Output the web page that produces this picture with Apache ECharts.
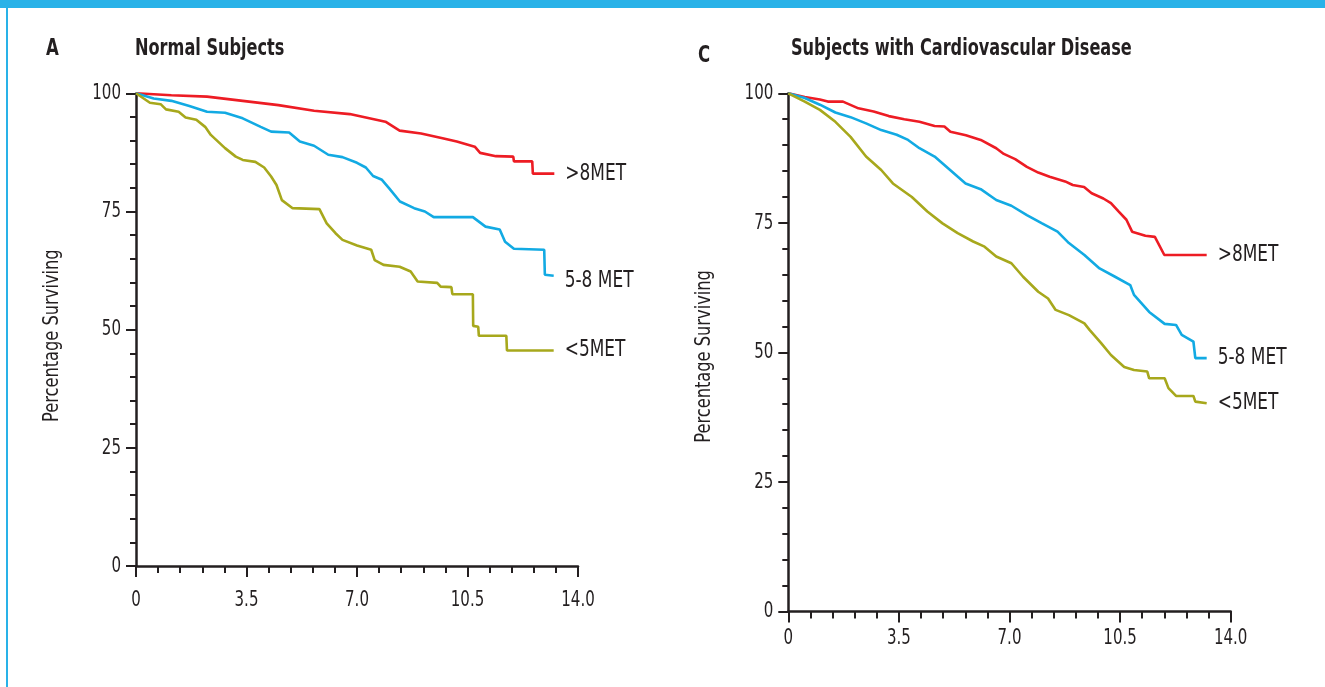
<!DOCTYPE html>
<html>
<head>
<meta charset="utf-8">
<script src="https://cdn.jsdelivr.net/npm/echarts@6/dist/echarts.min.js"></script>
<style>
html,body{margin:0;padding:0;background:#fff;}
#c{width:1325px;height:687px;}
</style>
</head>
<body>
<div id="c"></div>
<script>
// ---- Data (years of follow-up, percentage surviving) ----
const seriesNames = ['>8MET', '5-8 MET', '<5MET'];
const panelLetters = ['A', 'C'];
const panelTitles = ['Normal Subjects', 'Subjects with Cardiovascular Disease'];
const yAxisTitle = 'Percentage Surviving';
const xTickValues = [0, 3.5, 7, 10.5, 14];
const xTickLabels = ['0', '3.5', '7.0', '10.5', '14.0'];
const yTickValues = [0, 25, 50, 75, 100];
const yTickLabels = ['0', '25', '50', '75', '100'];

// Panel A: Normal subjects
const aHighT = [0,1.12,2.25,3.38,4.51,5.64,6.77,7.9,8.35,9.03,9.71,10.16,10.73,10.9,11.4,11.95,11.97,12.55,12.57,13.25];
const aHighS = [100,99.6,99.3,98.4,97.5,96.3,95.6,94.0,92.1,91.5,90.5,89.8,88.7,87.4,86.7,86.6,85.6,85.6,83.0,83.0];
const aMidT = [0,0.56,1.12,1.69,2.25,2.82,3.38,3.95,4.28,4.85,5.19,5.64,6.09,6.54,7.0,7.28,7.51,7.79,8.02,8.36,8.81,9.15,9.43,10.67,11.07,11.52,11.69,11.97,12.93,12.95,13.23];
const aMidS = [100,98.9,98.4,97.3,96.1,95.9,94.7,92.9,91.9,91.7,89.8,88.9,87.0,86.5,85.3,84.3,82.5,81.7,79.9,77.1,75.7,75.0,73.8,73.8,71.8,71.2,68.6,67.1,66.9,61.6,61.4];
const aLowT = [0,0.44,0.78,0.95,1.35,1.57,1.91,2.19,2.37,2.82,3.16,3.38,3.78,4.06,4.28,4.45,4.62,4.96,5.81,6.04,6.32,6.54,7.0,7.45,7.56,7.84,8.35,8.7,8.92,9.54,9.65,9.99,10.02,10.67,10.68,10.84,10.86,11.73,11.75,13.23];
const aLowS = [100,98.0,97.7,96.6,96.1,94.9,94.4,92.9,91.2,88.4,86.6,85.9,85.5,84.3,82.4,80.6,77.4,75.7,75.5,72.5,70.4,69.0,67.8,66.9,64.7,63.7,63.3,62.3,60.2,59.9,59.1,59.0,57.5,57.5,50.8,50.6,48.7,48.7,45.6,45.6];

// Panel C: Subjects with cardiovascular disease
const cHighT = [0,0.52,1.0,1.25,1.73,2.22,2.7,3.18,3.67,4.15,4.63,4.94,5.13,5.62,6.09,6.58,6.82,7.18,7.55,7.91,8.27,8.76,9.0,9.36,9.6,9.97,10.21,10.45,10.7,10.88,11.3,11.6,11.9,13.24];
const cHighS = [100,99.3,98.8,98.4,98.4,97.1,96.5,95.6,95.0,94.5,93.7,93.6,92.6,91.9,91.0,89.4,88.3,87.3,85.8,84.7,83.9,83.0,82.3,81.9,80.7,79.7,78.8,77.2,75.6,73.3,72.5,72.3,68.8,68.8];
const cMidT = [0,0.52,1.0,1.49,1.97,2.46,2.94,3.43,3.79,4.15,4.63,5.12,5.61,6.09,6.58,7.06,7.55,8.03,8.52,8.88,9.37,9.85,10.34,10.82,10.94,11.42,11.91,12.27,12.45,12.82,12.88,13.24];
const cMidS = [100,99.1,97.8,96.3,95.4,94.2,92.9,92.0,91.0,89.4,87.8,85.2,82.6,81.5,79.4,78.3,76.5,74.9,73.3,71.1,68.8,66.2,64.6,63.0,61.1,57.8,55.5,55.3,53.4,52.1,48.9,48.9];
const cLowT = [0,0.52,1.0,1.49,1.97,2.46,2.94,3.31,3.91,4.4,4.88,5.36,5.85,6.21,6.58,7.06,7.43,7.91,8.22,8.46,8.88,9.37,9.54,9.9,10.21,10.63,10.94,11.36,11.42,11.91,12.03,12.27,12.82,12.88,13.24];
const cLowS = [100,98.4,96.8,94.5,91.6,87.8,85.2,82.6,80.0,77.2,74.9,73.0,71.4,70.4,68.5,67.2,64.6,61.7,60.4,58.2,57.2,55.6,54.3,51.8,49.5,47.2,46.6,46.3,45.0,45.0,43.1,41.6,41.6,40.5,40.2];

const colors = ['#ed1c24', '#12aae3', '#a7a81c'];
const ink = '#231f20';
const FONT = "'DejaVu Sans Condensed','Liberation Sans Narrow',sans-serif";

function zip(t, s) { return t.map((x, i) => [x, s[i]]); }

const grids = [
  {left: 136, top: 93.3, width: 442, height: 472.7},
  {left: 788.3, top: 93.3, width: 442.4, height: 518.2}
];

function xAxis(gi) {
  return {
    type: 'value', gridIndex: gi, min: 0, max: 14, interval: 3.5,
    axisLine: {show: true, lineStyle: {color: ink, width: 2.5}},
    axisTick: {show: true, length: 11, lineStyle: {color: ink, width: 2}},
    minorTick: {show: true, splitNumber: 5, length: 7, lineStyle: {color: ink, width: 2}},
    splitLine: {show: false},
    axisLabel: {show: false}
  };
}
function yAxis(gi) {
  return {
    type: 'value', gridIndex: gi, min: 0, max: 100, interval: 25,
    axisLine: {show: true, lineStyle: {color: ink, width: 2.5}},
    axisTick: {show: true, length: 10, lineStyle: {color: ink, width: 2}},
    minorTick: {show: true, splitNumber: 5, length: 6, lineStyle: {color: ink, width: 2}},
    splitLine: {show: false},
    axisLabel: {show: false}
  };
}

function line(gi, name, t, s, color) {
  return {
    type: 'line', name: name, xAxisIndex: gi, yAxisIndex: gi,
    data: zip(t, s), showSymbol: false, symbol: 'none',
    lineStyle: {color: color, width: 2.6}, itemStyle: {color: color},
    z: 3
  };
}

const seriesData = [
  [[aHighT, aHighS], [aMidT, aMidS], [aLowT, aLowS]],
  [[cHighT, cHighS], [cMidT, cMidS], [cLowT, cLowS]]
];

const chart = echarts.init(document.getElementById('c'), null, {renderer: 'canvas'});
const series = [];
seriesData.forEach((panel, gi) => panel.forEach((d, k) => series.push(line(gi, seriesNames[k], d[0], d[1], colors[k]))));
chart.setOption({
  animation: false,
  backgroundColor: '#fff',
  grid: grids,
  xAxis: [xAxis(0), xAxis(1)],
  yAxis: [yAxis(0), yAxis(1)],
  series: series
});

// condensed text helper (scaled horizontally to mimic the condensed typeface)
function txt(x, y, text, o) {
  return {
    type: 'text', x: x, y: y, scaleX: o.sx || 0.78, rotation: o.rot || 0, z: 20,
    style: {
      text: text, x: 0, y: 0, fill: ink, align: o.align || 'left', verticalAlign: o.va || 'middle',
      font: (o.bold ? 'bold ' : '') + (o.size || 22) + 'px ' + FONT
    }
  };
}

const graphic = [
  {type: 'rect', x: 0, y: 0, shape: {width: 1325, height: 8}, style: {fill: '#29b2e8'}, z: 10},
  {type: 'rect', x: 6, y: 0, shape: {width: 2, height: 687}, style: {fill: '#29b2e8'}, z: 10}
];
const xLabelDrop = [34, 27];
const nameCenterX = [53, 705];
const letterPos = [[46, 49], [698, 56]];
const titlePos = [[135, 49], [791, 49]];
const endOffsetY = [[0, 5, 0], [0, 0, 0]];
[0, 1].forEach(gi => {
  const finder = {gridIndex: gi};
  xTickValues.forEach((v, i) => {
    const p = chart.convertToPixel(finder, [v, 0]);
    graphic.push(txt(p[0], p[1] + xLabelDrop[gi], xTickLabels[i], {align: 'center', sx: 0.76}));
  });
  yTickValues.forEach((v, i) => {
    const p = chart.convertToPixel(finder, [0, v]);
    graphic.push(txt(p[0] - 15, p[1], yTickLabels[i], {align: 'right', sx: 0.76}));
  });
  const top = chart.convertToPixel(finder, [0, 100]);
  const bot = chart.convertToPixel(finder, [0, 0]);
  graphic.push(txt(nameCenterX[gi], (top[1] + bot[1]) / 2 + (gi === 0 ? 6 : 4), yAxisTitle,
    {align: 'center', rot: Math.PI / 2, size: 21, sx: 0.86}));
  graphic.push(txt(letterPos[gi][0], letterPos[gi][1], panelLetters[gi], {bold: true, size: 23, sx: 0.8}));
  graphic.push(txt(titlePos[gi][0], titlePos[gi][1], panelTitles[gi], {bold: true, size: 23, sx: 0.78}));
  seriesData[gi].forEach((d, k) => {
    const n = d[0].length - 1;
    const p = chart.convertToPixel(finder, [d[0][n], d[1][n]]);
    graphic.push(txt(p[0] + 11, p[1] + endOffsetY[gi][k], seriesNames[k], {size: 23, sx: 0.82}));
  });
});
chart.setOption({graphic: graphic});
</script>
</body>
</html>
